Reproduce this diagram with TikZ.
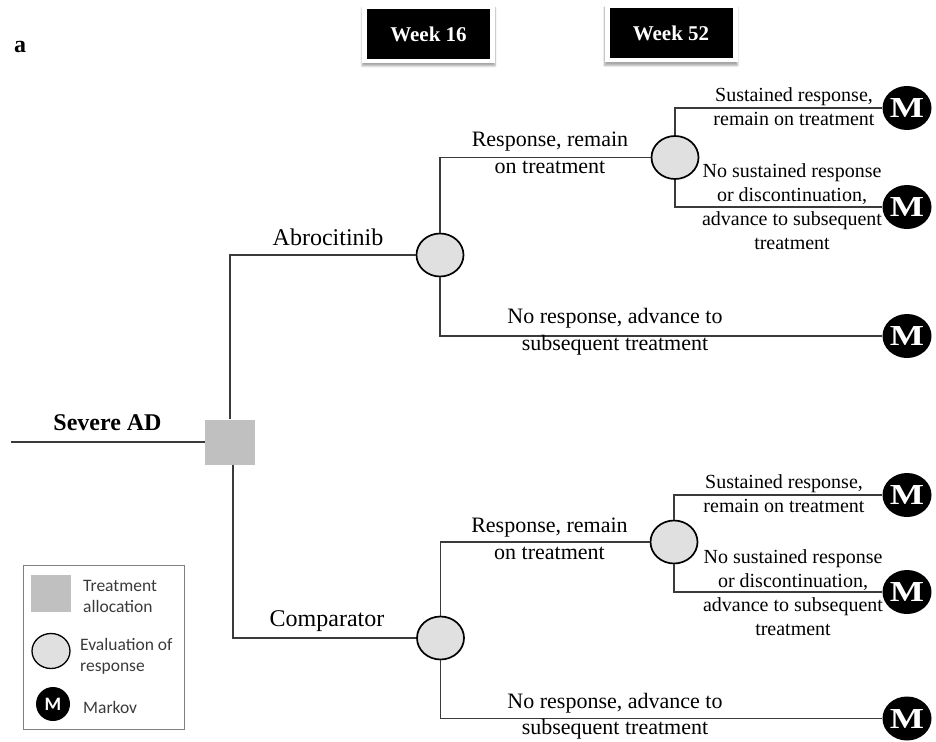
\documentclass[tikz,border=0pt]{standalone}
\usepackage{fontspec}
\setmainfont{Liberation Serif}
\newfontfamily\legfont{Carlito}
\usetikzlibrary{shapes.geometric,shadows.blur}
\definecolor{connc}{HTML}{3A3A3A}
\definecolor{evalfill}{HTML}{E0E0E0}
\definecolor{allocfill}{HTML}{C0C0C0}
\definecolor{legtext}{HTML}{3A3A3A}
\definecolor{legframe}{HTML}{808080}
\begin{document}
\begin{tikzpicture}[x=1pt,y=-1pt,
  conn/.style={draw=connc,line width=1.3pt},
  evalnode/.style={ellipse,draw=black,line width=1.7pt,fill=evalfill,inner sep=0pt,minimum width=47pt,minimum height=43pt},
  markov/.style={ellipse,fill=black,inner sep=0pt,minimum width=49pt,minimum height=44pt,text=white,font=\fontsize{29}{29}\selectfont\bfseries},
  lbl/.style={align=center,inner sep=0pt,font=\fontsize{20}{24}\selectfont},
  lblb/.style={align=center,inner sep=0pt,font=\fontsize{22}{26.5}\selectfont},
  armlbl/.style={inner sep=0pt,font=\fontsize{24}{28}\selectfont},
  weekframe/.style={fill=white,minimum width=133pt,minimum height=58pt,inner sep=0pt,
     blur shadow={shadow xshift=0pt,shadow yshift=-3pt,shadow blur steps=6,shadow opacity=35}},
  weekbox/.style={fill=black,text=white,minimum width=123pt,minimum height=50pt,inner sep=0pt,font=\fontsize{21}{21}\selectfont\bfseries},
  legtxt/.style={anchor=west,align=left,inner sep=0pt,text=legtext,font=\legfont\fontsize{17.5}{21}\selectfont}
]
\useasboundingbox (0,0) rectangle (936,741);

% panel label
\node[inner sep=0pt,font=\fontsize{24}{24}\selectfont\bfseries] (panel) at (20,47) {a};

% week headers
\node[weekframe] (w16f) at (428.5,34) {};
\node[weekbox] (w16) at (428.5,34) {Week 16};
\node[weekframe] (w52f) at (671,33.5) {};
\node[weekbox] (w52) at (671,33.5) {Week 52};

% root
\coordinate (start) at (11,442);
\node[fill=allocfill,minimum width=50pt,minimum height=45pt,inner sep=0pt] (sq) at (230,442) {};
\node[inner sep=0pt,font=\fontsize{24}{24}\selectfont\bfseries] (severe) at (107.5,423) {Severe AD};

% chance nodes
\node[evalnode] (e1) at (440,255) {};
\node[evalnode] (e2) at (675,157.5) {};
\node[evalnode] (e3) at (440.5,638) {};
\node[evalnode] (e4) at (674,542) {};

% Markov nodes
\node[markov] (m1) at (907,108) {\scalebox{1.25}[1]{M}};
\node[markov] (m2) at (907,207) {\scalebox{1.25}[1]{M}};
\node[markov] (m3) at (907,336) {\scalebox{1.25}[1]{M}};
\node[markov] (m4) at (907,495) {\scalebox{1.25}[1]{M}};
\node[markov] (m5) at (907,592) {\scalebox{1.25}[1]{M}};
\node[markov] (m6) at (907,718.5) {\scalebox{1.25}[1]{M}};

% connectors
\draw[conn] (start) -- (sq.west);
\draw[conn] (sq.north) |- (e1.west);
\draw[conn] ([xshift=3pt]sq.south) |- (e3.west);
\draw[conn] (e1.north) |- (e2.west);
\draw[conn] (e2.north) |- (m1.west);
\draw[conn] (e2.south) |- (m2.west);
\draw[conn] (e1.south) |- (m3.west);
\draw[conn] (e3.north) |- (e4.west);
\draw[conn] (e4.north) |- (m4.west);
\draw[conn] (e4.south) |- (m5.west);
\draw[conn] (e3.south) |- (m6.west);

% branch labels
\node[armlbl] (labA) at (328,237) {Abrocitinib};
\node[armlbl] (labC) at (327,621) {Comparator};
\node[lblb] (r1) at (550,153) {Response, remain\\on treatment};
\node[lblb] (r2) at (549.5,539) {Response, remain\\on treatment};
\node[lbl] (s1) at (794,106.5) {Sustained response,\\remain on treatment};
\node[lbl] (s2) at (784,494) {Sustained response,\\remain on treatment};
\node[lbl] (n1) at (792,207) {No sustained response\\or discontinuation,\\advance to subsequent\\treatment};
\node[lbl] (n2) at (793,592.5) {No sustained response\\or discontinuation,\\advance to subsequent\\treatment};
\node[lblb] (nr1) at (615,331.5) {No response, advance to\\subsequent treatment};
\node[lblb] (nr2) at (615,716) {No response, advance to\\subsequent treatment};

% legend
\node[draw=legframe,line width=1pt,minimum width=161pt,minimum height=164pt,inner sep=0pt] (legend) at (103.5,647) {};
\node[fill=allocfill,minimum width=40pt,minimum height=37pt,inner sep=0pt] (legsq) at (51,593.5) {};
\node[legtxt] (legsqt) at (83,596.5) {Treatment\\allocation};
\node[ellipse,draw=black,line width=1.3pt,fill=evalfill,minimum width=38pt,minimum height=35pt,inner sep=0pt] (legev) at (51,651) {};
\node[legtxt] (legevt) at (80,656.5) {Evaluation of\\response};
\node[circle,fill=black,minimum size=34pt,inner sep=0pt,text=white,font=\legfont\fontsize{19}{19}\selectfont\bfseries] (legm) at (53,704) {M};
\node[legtxt] (legmt) at (83,707) {Markov};
\end{tikzpicture}
\end{document}
